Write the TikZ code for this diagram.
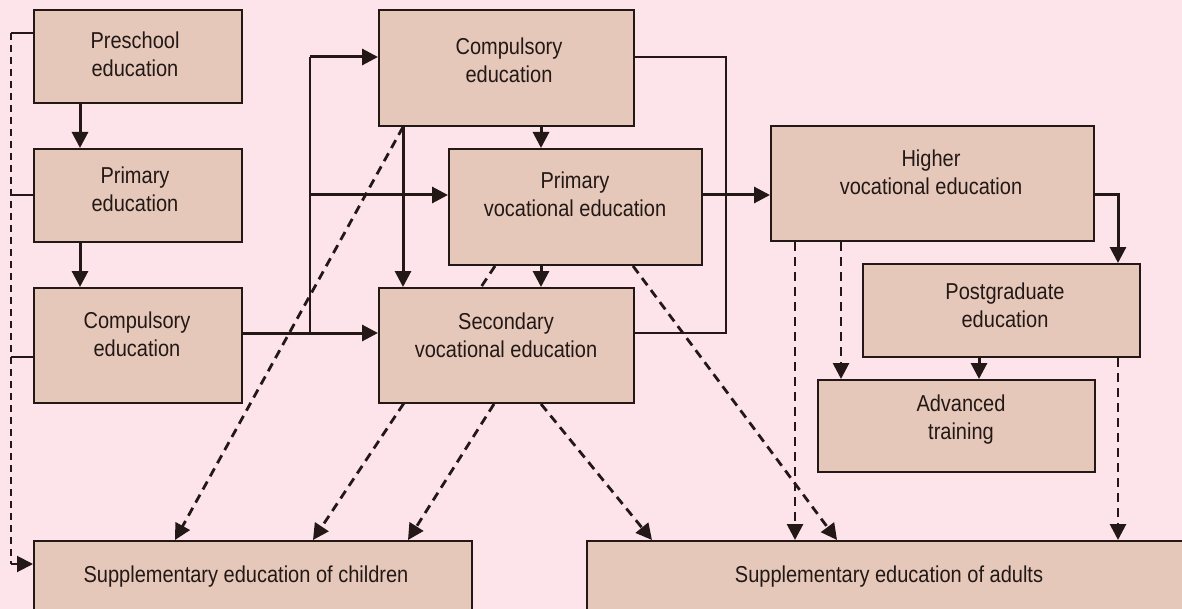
\documentclass[tikz,border=0pt]{standalone}
\usepackage{fontspec}
\setmainfont{Liberation Sans}[FakeStretch=0.87]
\usetikzlibrary{arrows.meta}
\definecolor{bgpink}{RGB}{252,228,234}
\definecolor{boxfill}{RGB}{229,200,186}
\definecolor{ink}{RGB}{35,24,21}
\pgfdeclarelayer{bglayer}
\pgfdeclarelayer{lines}
\pgfsetlayers{bglayer,lines,main}
\begin{document}
\begin{tikzpicture}[x=0.5pt,y=-0.5pt,
  box/.style={draw=ink, fill=boxfill, line width=1pt, inner sep=0pt},
  lbl/.style={align=center, font=\fontsize{11.5pt}{14pt}\selectfont, text=ink, inner sep=0pt},
  tip/.style={-{Triangle[length=8pt,width=8pt]}},
  arr/.style={draw=ink, line width=1.5pt, tip},
  con/.style={draw=ink, line width=1pt},
  dsh/.style={draw=ink, line width=1.4pt, dash pattern=on 4.5pt off 3pt, tip},
  tdsh/.style={draw=ink, line width=0.8pt, dash pattern=on 3.5pt off 2.5pt}]
\useasboundingbox (0,0) rectangle (1182,609);
\begin{pgfonlayer}{bglayer}
  \fill[bgpink] (0,0) rectangle (1182,609);
\end{pgfonlayer}
\clip (0,0) rectangle (1182,609);

% boxes
\node[box, minimum width=104pt, minimum height=46.5pt] (pre) at (138,56.5) {};
\node[box, minimum width=104pt, minimum height=46.5pt] (prim) at (138,195.5) {};
\node[box, minimum width=104pt, minimum height=57.5pt] (compL) at (138,345.5) {};
\node[box, minimum width=127.5pt, minimum height=58pt] (compT) at (506.5,68) {};
\node[box, minimum width=126.5pt, minimum height=58pt] (pvoc) at (575.5,207) {};
\node[box, minimum width=127.5pt, minimum height=57.5pt] (svoc) at (506.5,345.5) {};
\node[box, minimum width=161.5pt, minimum height=57.5pt] (hvoc) at (932.5,183.5) {};
\node[box, minimum width=138.5pt, minimum height=46.5pt] (pg) at (1001.5,310.5) {};
\node[box, minimum width=138.5pt, minimum height=46pt] (adv) at (956.5,426) {};
\node[box, minimum width=219pt, minimum height=50pt] (sch) at (253,591) {};
\node[box, minimum width=310pt, minimum height=50pt] (sad) at (897,591) {};

% labels
\node[lbl] (tpre) at (135,54) {Preschool\\education};
\node[lbl] (tprim) at (135,189.5) {Primary\\education};
\node[lbl] (tcompL) at (137,334) {Compulsory\\education};
\node[lbl] (tcompT) at (509,60) {Compulsory\\education};
\node[lbl] (tpvoc) at (575,194) {Primary\\vocational education};
\node[lbl] (tsvoc) at (506,335) {Secondary\\vocational education};
\node[lbl] (thvoc) at (931,172) {Higher\\vocational education};
\node[lbl] (tpg) at (1005,305) {Postgraduate\\education};
\node[lbl] (tadv) at (961,420) {Advanced\\training};
\node[lbl] (tsch) at (246,577) {Supplementary education of children};
\node[lbl] (tsad) at (889,577) {Supplementary education of adults};

\coordinate (lt) at (11,33);
\coordinate (lb) at (11,564);
\coordinate (j1) at (310,333);
\coordinate (j2) at (310,57);
\coordinate (j3) at (310,195);
\coordinate (r1) at (726,57);
\coordinate (r2) at (726,333);
\coordinate (h1) at (1118,195);

\begin{pgfonlayer}{lines}
  % left column
  \draw[arr] (pre.south -| 80,0) -- (prim.north -| 80,0);
  \draw[arr] (prim.south -| 80,0) -- (compL.north -| 80,0);
  \draw[con] (pre.west |- lt) -- (lt);
  \draw[tdsh] (lt) -- (lb);
  \draw[con, tip] (lb) -- (sch.west |- lb);
  \draw[con] (prim.west |- 0,195) -- (11,195);
  \draw[con] (compL.west |- 0,357) -- (11,357);
  % middle
  \draw[arr] (compL.east |- j1) -- (svoc.west |- j1);
  \draw[con] (j1) -- (j2);
  \draw[arr] (j2) -- (compT.west |- j2);
  \draw[arr] (j3) -- (pvoc.west |- j3);
  \draw[arr] (compT.south -| 541,0) -- (pvoc.north -| 541,0);
  \draw[arr] (compT.south -| 403,0) -- (svoc.north -| 403,0);
  \draw[arr] (pvoc.south -| 541,0) -- (svoc.north -| 541,0);
  \draw[con] (compT.east |- r1) -- (r1) -- (r2) -- (svoc.east |- r2);
  \draw[arr] (pvoc.east |- 0,195) -- (hvoc.west |- 0,195);
  % right
  \draw[arr] (hvoc.east |- h1) -- (h1) -- (pg.north -| h1);
  \draw[arr] (pg.south -| 979,0) -- (adv.north -| 979,0);
  \draw[dsh] (hvoc.south -| 841,0) -- (adv.north -| 841,0);
  \draw[dsh] (hvoc.south -| 795,0) -- (sad.north -| 795,0);
  \draw[dsh] (pg.south -| h1) -- (sad.north -| h1);
  % diagonals
  \draw[dsh] (pvoc.south -| 633,0) -- (sad.north -| 837,0);
  \draw[dsh] (svoc.south -| 541,0) -- (sad.north -| 652,0);
  \draw[dsh] (svoc.south -| 494,0) -- (sch.north -| 408,0);
  \draw[dsh] (compT.south -| 403,0) -- (sch.north -| 175,0);
  \draw[dsh] (pvoc.south -| 495,0) -- (sch.north -| 313,0);
\end{pgfonlayer}
\end{tikzpicture}
\end{document}
